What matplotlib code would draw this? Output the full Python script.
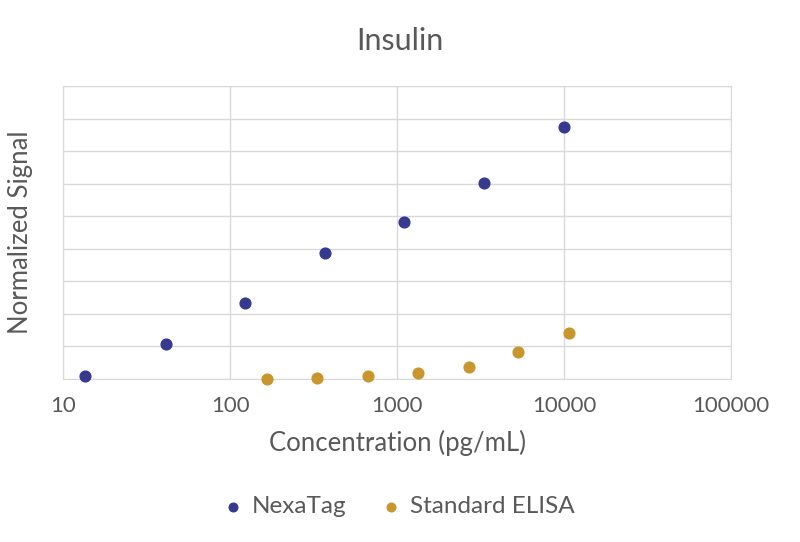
import matplotlib
matplotlib.use('Agg')
import matplotlib.pyplot as plt

plt.rcParams['font.family'] = ['Lato', 'DejaVu Sans']

# NexaTag data
nexa_conc = [13.5, 41, 123, 371, 1100, 3300, 10000]
nexa_signal = [0.09, 1.07, 2.33, 3.87, 4.82, 6.01, 7.76]

# Standard ELISA data
elisa_conc = [166, 330, 670, 1340, 2700, 5300, 10700]
elisa_signal = [0.0, 0.03, 0.09, 0.18, 0.37, 0.83, 1.41]

x_ticks = [10, 100, 1000, 10000, 100000]
x_labels = ['10', '100', '1000', '10000', '100000']

text_col = '#595959'
grid_col = '#d9d9d9'

fig = plt.figure(figsize=(8, 5.42), dpi=100)
ax = fig.add_axes([0.079, 0.301, 0.835, 0.54])

ax.scatter(nexa_conc, nexa_signal, s=60, color='#353A8F', label='NexaTag', zorder=3, clip_on=False)
ax.scatter(elisa_conc, elisa_signal, s=60, color='#C9962E', label='Standard ELISA', zorder=3, clip_on=False)

ax.set_xscale('log')
ax.set_xlim(10, 100000)
ax.set_ylim(0, 9)
ax.set_xticks(x_ticks)
ax.set_xticklabels(x_labels)
ax.minorticks_off()
ax.set_yticks(range(0, 10))
ax.set_yticklabels([])
ax.tick_params(length=0, labelsize=16, colors=text_col, pad=12)
ax.grid(True, color=grid_col, linewidth=1)
ax.set_axisbelow(True)
for s in ax.spines.values():
    s.set_color(grid_col)

ax.set_xlabel('Concentration (pg/mL)', fontsize=18.5, color=text_col, labelpad=10)
ax.set_ylabel('Normalized Signal', fontsize=18.5, color=text_col, labelpad=10)
fig.text(0.5, 0.925, 'Insulin', ha='center', va='center', fontsize=22, color=text_col)

fig.legend(loc='center', bbox_to_anchor=(0.5, 0.065), ncol=2, frameon=False,
           fontsize=17.5, labelcolor=text_col, handlelength=0.6, handletextpad=0.5,
           columnspacing=1.5, markerscale=0.8)

fig.savefig('out.png', dpi=100)
